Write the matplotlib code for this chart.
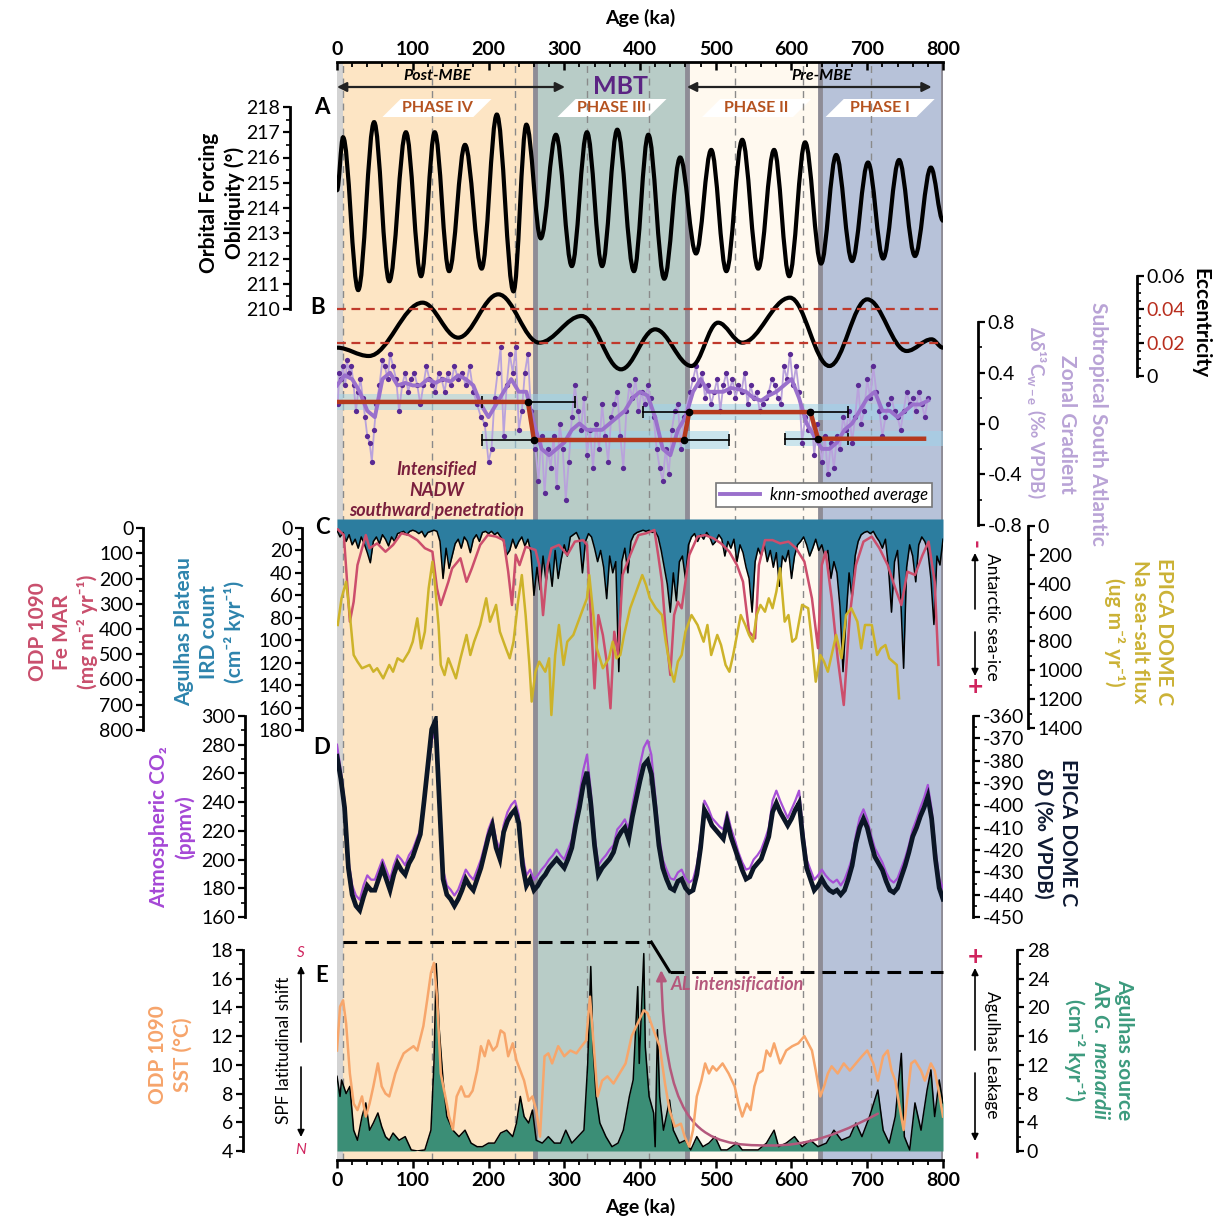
import numpy as np
import matplotlib.pyplot as plt
from matplotlib.ticker import FixedLocator, MultipleLocator
from matplotlib.patches import Polygon, PathPatch, FancyArrowPatch
from matplotlib.path import Path

plt.rcParams['font.family'] = ['Lato', 'DejaVu Sans']
plt.rcParams['axes.unicode_minus'] = False
plt.rcParams['mathtext.fontset'] = 'custom'
plt.rcParams['mathtext.rm'] = 'Lato:bold'
plt.rcParams['mathtext.it'] = 'Lato:italic:bold'
plt.rcParams['mathtext.bf'] = 'Lato:bold'

# ---------------- data ----------------
# (A) obliquity turning points
obl_age = [0, 8, 28, 49, 69, 91, 111, 129, 148, 169, 191, 211, 233, 250, 269, 289, 310, 330,
           350, 370, 392, 411, 432, 453, 474, 494, 514, 535, 556, 577, 597, 618, 639, 659,
           680, 701, 721, 742, 763, 784, 800]
obl_val = [214.7, 216.8, 210.75, 217.4, 211.1, 217.0, 211.3, 217.0, 211.5, 216.5, 211.6, 217.7,
           210.7, 217.3, 212.8, 216.9, 211.7, 217.0, 211.7, 217.1, 211.5, 216.9, 211.2, 216.0,
           212.2, 216.3, 211.5, 216.7, 211.6, 216.3, 211.3, 216.6, 211.8, 216.1, 211.9, 215.8,
           212.0, 215.9, 212.1, 215.6, 213.5]

# (B) eccentricity turning points
ecc_age = [0, 42, 113, 160, 213, 267, 323, 375, 420, 468, 503, 535, 598, 650, 700, 752, 785, 800]
ecc_val = [0.017, 0.012, 0.044, 0.023, 0.049, 0.020, 0.036, 0.004, 0.028, 0.006, 0.032, 0.020,
           0.047, 0.006, 0.046, 0.015, 0.022, 0.017]

# (B) zonal d13C gradient, raw and knn-smoothed
d13_age = [1, 3, 5, 8, 11, 13, 16, 19, 22, 25, 28, 31, 34, 37, 40, 43, 46, 49, 52, 56, 60, 63, 67,
           70, 74, 78, 82, 86, 90, 94, 98, 102, 106, 110, 114, 118, 122, 126, 130, 134, 138, 142,
           146, 150, 155, 160, 165, 170, 175, 180, 185, 190, 195, 200, 204, 208, 212, 216, 220,
           224, 228, 232, 236, 240, 244, 248, 252, 256,
           262, 266, 270, 274, 278, 282, 286, 290, 294, 298, 302, 306, 310, 314, 318, 322, 326,
           330, 334, 338, 342, 346, 350, 354, 358, 362, 366, 370, 374, 378, 382, 386, 390, 394,
           398, 402, 406, 410, 414, 418, 422, 426, 430, 434, 438, 442, 446, 450, 454, 458,
           466, 470, 474, 478, 482, 486, 490, 494, 498, 502, 506, 510, 514, 518, 522, 526, 530,
           534, 538, 542, 546, 550, 554, 558, 562, 566, 570, 574, 578, 582, 586, 590, 594, 598,
           602, 606, 610, 614, 618, 622, 626, 630, 634,
           640, 644, 648, 652, 656, 660, 664, 668, 672, 676, 680, 684, 688, 692, 696, 700, 704,
           708, 712, 716, 720, 724, 728, 732, 736, 740, 744, 748, 752, 756, 760, 764, 768, 772,
           776, 780]
d13_val = [0.15, 0.40, 0.35, 0.45, 0.30, 0.50, 0.40, 0.45, 0.30, 0.10, 0.25, 0.35, 0.20, 0.05,
           -0.10, -0.15, -0.30, -0.05, 0.15, 0.30, 0.50, 0.45, 0.35, 0.55, 0.45, 0.35, 0.10, 0.30,
           0.40, 0.25, 0.35, 0.40, 0.30, 0.15, 0.30, 0.45, 0.35, 0.30, 0.25, 0.40, 0.35, 0.25,
           0.40, 0.30, 0.45, 0.35, 0.40, 0.30, 0.45, 0.25, 0.15, 0.05, 0.00, -0.30, -0.20, 0.20,
           0.40, 0.60, -0.10, 0.30, 0.55, 0.40, 0.60, -0.05, 0.10, 0.40, 0.55, 0.10,
           -0.20, -0.45, -0.10, -0.55, -0.20, -0.35, -0.10, -0.50, 0.00, -0.20, -0.60, -0.30,
           0.05, 0.30, 0.10, -0.05, 0.20, -0.25, -0.05, -0.35, 0.00, -0.20, 0.15, -0.10, -0.30,
           0.05, 0.15, 0.25, -0.10, -0.35, 0.10, 0.30, 0.20, 0.35, 0.10, 0.25, 0.15, 0.30, 0.20,
           0.05, -0.20, -0.35, -0.45, -0.20, -0.40, -0.05, 0.10, 0.15, -0.20, 0.05,
           0.25, 0.35, 0.45, 0.30, 0.40, 0.20, 0.30, 0.15, 0.25, 0.35, 0.10, 0.30, 0.40, 0.25,
           0.35, 0.20, 0.30, 0.25, 0.40, 0.15, 0.30, 0.20, 0.25, 0.10, 0.15, 0.20, 0.25, 0.35,
           0.30, 0.20, 0.15, 0.45, 0.35, 0.55, 0.30, 0.45, 0.25, -0.15, 0.05, -0.05, 0.10, -0.25,
           0.00,
           -0.30, -0.10, -0.40, -0.15, -0.35, -0.10, -0.20, 0.05, -0.05, 0.10, -0.15, 0.05, 0.30,
           0.00, 0.10, 0.35, 0.20, 0.45, 0.25, 0.10, -0.10, 0.05, 0.15, 0.20, 0.10, 0.05, -0.05,
           0.10, 0.25, 0.15, 0.20, 0.10, 0.25, 0.15, 0.05, 0.20]
knn_age = list(range(0, 790, 10))
knn_val = [0.30, 0.38, 0.35, 0.25, 0.10, 0.05, 0.35, 0.40, 0.30, 0.32, 0.30, 0.30, 0.35, 0.32,
           0.35, 0.33, 0.38, 0.35, 0.30, 0.15, 0.05, 0.15, 0.25, 0.35, 0.25, 0.25, 0.00, -0.20,
           -0.25, -0.20, -0.15, -0.05, 0.00, -0.05, -0.05, -0.05, 0.00, 0.05, 0.10, 0.20, 0.25,
           0.22, 0.05, -0.20, -0.25, -0.05, 0.05, 0.25, 0.35, 0.25, 0.25, 0.25, 0.28, 0.27, 0.25,
           0.20, 0.18, 0.22, 0.25, 0.30, 0.35, 0.20, 0.00, -0.10, -0.20, -0.20, -0.15, -0.05,
           0.00, 0.10, 0.20, 0.25, 0.10, 0.10, 0.05, 0.10, 0.15, 0.15, 0.18]

# (B) mean levels of the gradient per phase, with timing ranges and 1-sigma bands
step_age = [0, 252, 260, 458, 465, 625, 635, 775]
step_val = [0.17, 0.17, -0.13, -0.13, 0.09, 0.09, -0.12, -0.12]
range_from = [191, 191, 404, 591]
range_to = [314, 517, 675, 675]
range_lvl = [0.17, -0.13, 0.09, -0.12]
band_from = [0, 191, 404, 591]
band_to = [314, 517, 760, 800]
band_half = [0.06, 0.07, 0.06, 0.06]

# (C) Agulhas Plateau IRD, 4 ka spacing from 0 to 800 ka
ird_age = list(range(0, 801, 4))
ird_val = [2, 8, 4, 12, 6, 15, 10, 18, 8, 14, 22, 31, 12, 8, 14, 6, 10, 16, 8, 12, 5, 4, 3, 6, 3,
           2, 3, 5, 3, 8, 4, 3, 2, 3, 12, 45, 18, 36, 25, 14, 10, 18, 8, 12, 22, 10, 6, 12, 4, 3,
           5, 3, 6, 4, 8, 12, 24, 20, 10, 18, 12, 8, 16, 10, 22, 60, 35, 55, 25, 48, 30, 52, 20,
           45, 28, 15, 25, 8, 6, 4, 10, 40, 12, 5, 8, 18, 30, 20, 35, 63, 25, 40, 30, 128, 30,
           18, 40, 12, 6, 4, 3, 2, 3, 2, 4, 3, 8, 20, 35, 50, 75, 40, 65, 30, 25, 45, 15, 8, 5,
           12, 6, 10, 4, 8, 15, 12, 6, 10, 25, 12, 18, 10, 30, 15, 22, 35, 45, 75, 30, 18, 25,
           15, 30, 20, 35, 22, 52, 25, 30, 20, 45, 25, 15, 12, 8, 15, 25, 18, 10, 20, 15, 25, 20,
           45, 30, 40, 70, 128, 80, 40, 63, 25, 12, 6, 4, 3, 5, 3, 8, 12, 18, 10, 35, 75, 30, 20,
           60, 125, 35, 15, 25, 48, 15, 8, 12, 20, 45, 86, 25, 33, 10]

# (C) ODP 1090 Fe MAR
fe_age = [1, 9, 17, 22, 27, 38, 43, 53, 64, 74, 85, 95, 106, 116, 126, 132, 137, 147, 152, 163,
          171, 178, 189, 199, 210, 220, 226, 231, 236, 241, 249, 262, 267, 272, 278, 283, 293,
          304, 314, 325, 330, 335, 340, 345, 351, 356, 361, 366, 371, 377, 387, 398, 408, 419,
          424, 429, 434, 440, 445, 450, 455, 460, 465, 476, 486, 497, 507, 518, 528, 536, 544,
          552, 557, 565, 575, 585, 596, 606, 617, 627, 635, 640, 645, 653, 661, 669, 677, 685,
          695, 706, 716, 727, 737, 745, 753, 763, 773, 781, 789, 794]
fe_val = [5, 28, 371, 292, 147, 28, 80, 61, 94, 67, 21, 28, 48, 80, 94, 239, 305, 213, 160, 120,
          213, 160, 67, 28, 34, 48, 173, 305, 107, 147, 74, 87, 147, 345, 147, 80, 67, 107, 54,
          48, 67, 345, 635, 345, 424, 529, 714, 411, 503, 186, 107, 28, 21, 8, 107, 213, 411,
          582, 345, 292, 318, 213, 107, 34, 28, 41, 61, 94, 147, 213, 411, 437, 147, 48, 48,
          61, 54, 80, 133, 279, 476, 147, 94, 279, 516, 701, 345, 147, 54, 34, 80, 147, 239,
          305, 173, 186, 107, 54, 213, 542]

# (C) EPICA Dome C Na sea-salt flux
na_age = [1, 6, 12, 17, 22, 27, 33, 43, 48, 53, 61, 69, 74, 80, 87, 95, 100, 106, 111, 116, 121,
          126, 129, 134, 137, 142, 147, 152, 157, 163, 171, 176, 181, 189, 197, 202, 210, 215,
          223, 228, 233, 239, 244, 249, 254, 257, 262, 267, 275, 280, 283, 288, 293, 299, 304,
          312, 320, 325, 330, 333, 338, 343, 351, 359, 364, 369, 374, 379, 387, 395, 403, 408,
          413, 421, 429, 434, 440, 445, 450, 455, 460, 468, 476, 484, 489, 494, 502, 507, 513,
          518, 523, 528, 533, 539, 544, 549, 554, 559, 565, 570, 575, 580, 585, 591, 596, 601,
          606, 614, 622, 627, 632, 638, 643, 648, 653, 659, 666, 672, 679, 687, 692, 697, 706,
          713, 718, 724, 729, 734, 739, 742]
na_val = [686, 501, 386, 617, 894, 940, 986, 963, 1010, 986, 1056, 963, 1010, 917, 940, 871, 802,
          640, 848, 732, 432, 247, 386, 686, 963, 1033, 917, 986, 1056, 917, 755, 894, 802, 686,
          501, 663, 547, 732, 848, 917, 802, 524, 340, 617, 963, 1217, 1010, 940, 1010, 917,
          1310, 894, 686, 963, 802, 755, 640, 570, 501, 340, 594, 848, 986, 917, 802, 917, 894,
          755, 570, 455, 340, 409, 501, 570, 617, 802, 986, 1079, 940, 894, 732, 617, 686, 802,
          686, 894, 755, 825, 963, 1010, 894, 755, 617, 686, 755, 802, 617, 547, 594, 501, 570,
          455, 293, 663, 617, 802, 778, 547, 570, 802, 1079, 894, 940, 1010, 894, 755, 917, 617,
          570, 663, 848, 686, 686, 894, 848, 825, 917, 940, 963, 1194]

# (D) atmospheric CO2 and EPICA Dome C dD, 5 ka spacing
d_age = list(range(0, 801, 5))
co2_val = [280, 262, 241, 200, 182, 175, 172, 182, 189, 186,
           186, 193, 200, 193, 186, 196, 203, 200, 196, 203,
           207, 214, 221, 241, 262, 283, 290, 241, 193, 182,
           179, 175, 179, 186, 193, 189, 186, 193, 200, 210,
           221, 228, 214, 207, 224, 233, 238, 241, 231, 203,
           189, 193, 186, 189, 193, 196, 200, 203, 207, 203,
           200, 207, 214, 231, 245, 262, 273, 248, 217, 196,
           200, 203, 207, 210, 221, 224, 228, 221, 238, 252,
           266, 278, 283, 273, 245, 217, 200, 193, 187, 186,
           191, 193, 187, 184, 186, 196, 214, 241, 236, 229,
           226, 223, 221, 233, 222, 214, 205, 198, 193, 194,
           200, 203, 207, 214, 222, 241, 248, 241, 235, 229,
           235, 241, 248, 221, 200, 193, 186, 189, 193, 189,
           186, 184, 186, 182, 186, 193, 201, 217, 229, 235,
           228, 217, 208, 203, 198, 191, 186, 184, 187, 194,
           201, 210, 221, 228, 236, 243, 252, 235, 207, 187,
           180]
dd_val = [-378, -388, -401, -428, -440, -445, -447, -441, -436, -438,
          -438, -433, -428, -433, -438, -431, -426, -429, -431, -426,
          -423, -418, -413, -398, -382, -366, -362, -398, -433, -440,
          -442, -445, -442, -438, -433, -436, -438, -433, -428, -421,
          -414, -409, -419, -424, -412, -407, -404, -402, -408, -427,
          -436, -433, -438, -436, -433, -431, -428, -426, -424, -426,
          -428, -424, -419, -409, -401, -391, -385, -399, -418, -431,
          -428, -426, -424, -421, -415, -412, -410, -415, -405, -397,
          -389, -382, -380, -386, -401, -418, -428, -433, -437, -438,
          -434, -433, -437, -439, -438, -431, -419, -402, -405, -409,
          -411, -413, -415, -407, -414, -419, -424, -429, -433, -432,
          -428, -426, -424, -419, -414, -403, -399, -403, -406, -409,
          -406, -402, -399, -415, -428, -433, -438, -436, -433, -436,
          -438, -439, -438, -440, -438, -433, -427, -417, -410, -406,
          -410, -417, -423, -426, -429, -434, -438, -439, -437, -432,
          -427, -421, -414, -410, -405, -401, -396, -406, -424, -437,
          -442]

# (E) ODP 1090 SST
sst_age = [0, 4, 8, 12, 17, 22, 27, 33, 38, 43, 48, 54, 59, 64, 69, 77, 82, 88, 93, 101, 106,
           114, 119, 124, 128, 132, 137, 143, 148, 153, 158, 164, 169, 174, 179, 185, 190, 195,
           200, 206, 211, 216, 221, 226, 232, 237, 242, 247, 253, 258, 263, 268, 274, 279, 284,
           292, 300, 308, 316, 323, 329, 334, 339, 344, 350, 357, 365, 373, 381, 389, 397, 405,
           410, 418, 426, 433, 439, 446, 454, 459, 465, 470, 475, 481, 486, 491, 496, 501, 509,
           517, 525, 530, 535, 541, 546, 551, 556, 562, 567, 572, 577, 585, 593, 601, 609, 617,
           622, 627, 632, 638, 643, 648, 653, 661, 669, 677, 685, 693, 700, 708, 714, 721, 727,
           732, 737, 742, 748, 753, 758, 763, 771, 776, 784, 789, 795, 800]
sst_val = [11.0, 14.05, 14.5, 12.9, 9.4, 7.3, 6.85, 7.8, 6.4, 7.3, 8.5, 10.1, 8.5, 8.0, 7.8, 9.4,
           10.1, 10.8, 11.0, 11.3, 11.0, 12.7, 14.5, 16.4, 17.1, 14.75, 9.4, 7.8, 6.4, 5.5, 7.8,
           8.5, 7.8, 7.8, 8.2, 9.6, 11.3, 10.6, 11.7, 11.0, 11.3, 12.4, 12.2, 10.6, 11.5, 10.3,
           9.6, 8.9, 7.5, 7.8, 6.85, 5.0, 10.6, 10.8, 10.1, 11.3, 10.6, 11.0, 10.8, 11.3, 11.7,
           14.75, 11.3, 7.8, 8.9, 9.2, 8.7, 9.4, 10.1, 12.0, 12.9, 13.8, 13.6, 12.4, 11.3, 8.7,
           6.85, 5.7, 5.9, 5.0, 4.3, 5.46, 7.8, 8.9, 10.1, 9.4, 9.9, 9.6, 10.1, 9.4, 8.5, 7.3,
           6.4, 7.3, 6.85, 8.5, 9.4, 9.6, 11.0, 10.6, 11.5, 10.1, 11.0, 11.3, 11.5, 12.0, 11.5,
           11.0, 9.6, 7.8, 8.5, 9.4, 9.9, 9.4, 10.1, 9.6, 10.1, 10.6, 11.0, 10.1, 8.9, 10.6,
           11.0, 9.6, 8.9, 7.3, 5.46, 7.8, 10.1, 10.3, 9.6, 8.9, 10.1, 9.6, 8.0, 6.4]

# (E) Agulhas-source G. menardii accumulation
men_age = [0, 4, 6, 12, 17, 22, 27, 33, 38, 43, 48, 54, 59, 64, 69, 74, 82, 90, 98, 106, 116,
           124, 128, 131, 135, 140, 145, 153, 161, 169, 177, 185, 192, 200, 208, 216, 224, 232,
           237, 242, 247, 253, 258, 263, 271, 279, 287, 295, 302, 310, 318, 326, 331, 335, 338,
           342, 347, 355, 363, 371, 378, 386, 391, 397, 399, 405, 407, 412, 418, 420, 423, 426,
           431, 439, 444, 452, 460, 467, 475, 483, 491, 499, 507, 515, 528, 535, 546, 556, 567,
           577, 583, 593, 604, 614, 625, 635, 646, 656, 666, 677, 685, 693, 703, 714, 721, 729,
           737, 745, 749, 756, 763, 771, 779, 784, 789, 795, 800]
men_val = [10.4, 7.6, 9.9, 8.0, 9.0, 2.9, 1.5, 4.8, 6.7, 2.9, 3.9, 5.3, 3.4, 2.0, 1.5, 2.5, 1.5,
           2.0, 0.15, 0, 0.15, 2.9, 12.2, 26.1, 16.9, 9.9, 4.8, 2.9, 2.0, 2.9, 1.1, 0.6, 0.6,
           1.1, 1.1, 2.5, 2.9, 2.0, 3.9, 7.6, 4.8, 3.9, 5.7, 1.5, 1.1, 2.0, 1.1, 1.1, 2.9, 1.1,
           2.0, 2.9, 12.2, 25.7, 14.5, 7.6, 3.9, 2.0, 0.6, 1.1, 2.9, 7.6, 9.9, 22.9, 12.2, 27.5,
           14.5, 7.6, 5.3, 0.6, 16.9, 7.6, 2.9, 7.1, 2.9, 1.1, 1.5, 0.15, 2.0, 0.6, 1.1, 2.0,
           0.15, 0.15, 1.1, 0.15, 0.15, 0.15, 1.1, 2.9, 0.6, 1.1, 2.0, 0.6, 1.5, 0.6, 1.1, 2.9,
           1.5, 2.0, 3.9, 2.0, 4.8, 8.5, 2.9, 1.1, 4.8, 13.6, 2.0, 0.15, 6.7, 2.9, 8.5, 11.3,
           4.8, 9.9, 6.7]

# (E) schematic subtropical-front position
spf_age = [8, 415, 439, 800]
spf_lvl = [18.55, 18.55, 16.5, 16.5]

phase_edges = [8, 261, 462, 637, 800]
phase_names = ['PHASE IV', 'PHASE III', 'PHASE II', 'PHASE I']
phase_mid = [132, 363, 554, 717]
marker_ages = [8, 125, 235, 330, 412, 525, 615, 705]

# ---------------- layout helpers ----------------
W, H = 1220, 1219
X0, X1 = 337, 943

fig = plt.figure(figsize=(W / 100, H / 100), dpi=100)


def box(top, bot):
    return [X0 / W, 1 - bot / H, (X1 - X0) / W, (bot - top) / H]


def panel(top, bot, ylim):
    ax = fig.add_axes(box(top, bot))
    ax.set_xlim(0, 800)
    ax.set_ylim(*ylim)
    ax.patch.set_visible(False)
    ax.set_xticks([])
    for s in ax.spines.values():
        s.set_visible(False)
    ax.set_yticks([])
    return ax


def yscale(ax, side, xpx, lo, hi, major, minor):
    sp = ax.spines[side]
    sp.set_visible(True)
    sp.set_linewidth(2)
    sp.set_position(('axes', (xpx - X0) / (X1 - X0)))
    sp.set_bounds(lo, hi)
    if side == 'right':
        ax.yaxis.tick_right()
    else:
        ax.yaxis.tick_left()
    ticks = np.arange(lo, hi + major * 0.5, major)
    ax.yaxis.set_major_locator(FixedLocator(ticks))
    ax.yaxis.set_minor_locator(FixedLocator(np.arange(lo, hi + minor * 0.5, minor)))
    ax.set_yticklabels(['{:g}'.format(round(t, 6) + 0.0) for t in ticks])
    ax.tick_params(axis='y', which='major', length=5, width=1.6, labelsize=14, pad=2)
    ax.tick_params(axis='y', which='minor', length=3, width=1.2)


def smooth_path(ages, vals, k=0.36):
    # cubic segments with flat tangents at each turning point
    verts = [(ages[0], vals[0])]
    codes = [Path.MOVETO]
    for i in range(1, len(ages)):
        d = ages[i] - ages[i - 1]
        verts += [(ages[i - 1] + k * d, vals[i - 1]), (ages[i] - k * d, vals[i]), (ages[i], vals[i])]
        codes += [Path.CURVE4] * 3
    return Path(verts, codes)


# ---------------- background: phases and age axes ----------------
bg = fig.add_axes(box(62, 1160))
bg.set_xlim(0, 800)
bg.set_ylim(1160, 62)
bg.set_yticks([])
bg.axvspan(0, 8, color='#d3d3d3', lw=0)
for a0, a1, c in zip(phase_edges[:-1], phase_edges[1:], ['#fde5c4', '#b8ccc7', '#fff9ef', '#b7c2d9']):
    bg.axvspan(a0, a1, color=c, lw=0)
for a in marker_ages:
    bg.axvline(a, color='#8a8a8a', lw=1, dashes=(5, 4))
for a in phase_edges[1:]:
    bg.axvline(a, color='#8e8c96', lw=3.5)
for s in ['left', 'right', 'top']:
    bg.spines[s].set_visible(False)
bg.spines['bottom'].set_linewidth(2)
bg.xaxis.set_major_locator(MultipleLocator(100))
bg.xaxis.set_minor_locator(MultipleLocator(20))
bg.tick_params(axis='x', which='major', direction='out', length=6, width=1.8, labelsize=14, pad=3)
bg.tick_params(axis='x', which='minor', direction='out', length=3.5, width=1.3)
for t in bg.get_xticklabels():
    t.set_fontweight('bold')
bg.set_xlabel('Age (ka)', fontsize=14, fontweight='bold', labelpad=6)

tw = bg.twiny()
tw.set_xlim(0, 800)
for s in ['left', 'right', 'bottom']:
    tw.spines[s].set_visible(False)
tw.spines['top'].set_linewidth(2)
tw.xaxis.set_major_locator(MultipleLocator(100))
tw.xaxis.set_minor_locator(MultipleLocator(20))
tw.tick_params(axis='x', which='major', direction='in', length=6, width=1.8, labelsize=14, pad=3)
tw.tick_params(axis='x', which='minor', direction='in', length=3.5, width=1.3)
for t in tw.get_xticklabels():
    t.set_fontweight('bold')
tw.set_xlabel('Age (ka)', fontsize=14, fontweight='bold', labelpad=12)

# phase tags and MBE arrows
for name, mid in zip(phase_names, phase_mid):
    bg.add_patch(Polygon([(mid - 72, 117), (mid + 48, 117), (mid + 72, 99), (mid - 48, 99)],
                         closed=True, color='white', lw=0))
    bg.text(mid, 108, name, ha='center', va='center', fontsize=11.5, fontweight='bold', color='#b5521f')
bg.annotate('', xy=(0, 87), xytext=(301, 87),
            arrowprops=dict(arrowstyle='<|-|>', color='#222222', lw=1.6, mutation_scale=14, shrinkA=0, shrinkB=0))
bg.annotate('', xy=(462, 87), xytext=(785, 87),
            arrowprops=dict(arrowstyle='<|-|>', color='#222222', lw=1.6, mutation_scale=14, shrinkA=0, shrinkB=0))
bg.text(132, 76, 'Post-MBE', ha='center', va='center', fontsize=11.5, fontweight='bold', style='italic')
bg.text(640, 76, 'Pre-MBE', ha='center', va='center', fontsize=11.5, fontweight='bold', style='italic')
bg.text(374, 87, 'MBT', ha='center', va='center', fontsize=18, fontweight='bold', color='#5b2483')

# ---------------- A: obliquity ----------------
axA = panel(107, 309, (210, 218))
yscale(axA, 'left', 290, 210, 218, 1, 0.5)
axA.add_patch(PathPatch(smooth_path(obl_age, obl_val), fill=False, lw=3, color='k', capstyle='round'))

# ---------------- B: zonal gradient and eccentricity ----------------
axB = panel(322, 525, (-0.8, 0.8))
yscale(axB, 'right', 978, -0.8, 0.8, 0.4, 0.2)
for a0, a1, lvl, hw in zip(band_from, band_to, range_lvl, band_half):
    axB.fill_between([a0, a1], lvl - hw, lvl + hw, color='#9fd3ea', alpha=0.55, lw=0)
axB.plot(d13_age, d13_val, color='#b9a2dc', lw=1.3)
axB.plot(d13_age, d13_val, 'o', color='#5a2a94', ms=3.8, mec='none')
knn_line, = axB.plot(knn_age, knn_val, color='#9a70cc', lw=2.8)
for a0, a1, lvl in zip(range_from, range_to, range_lvl):
    axB.plot([a0, a1], [lvl, lvl], color='k', lw=1.2)
    axB.plot([a0, a1], [lvl, lvl], '|', color='k', ms=8, mew=1.2)
axB.plot(step_age, step_val, color='#b5391d', lw=3.2, solid_joinstyle='miter')
axB.plot(step_age[1:-1], step_val[1:-1], 'o', color='k', ms=4.5)
leg = axB.legend([knn_line], ['knn-smoothed average'], loc='upper right',
                 bbox_to_anchor=(932 / W, 1 - 483 / H), bbox_transform=fig.transFigure,
                 prop={'size': 12, 'style': 'italic'}, fancybox=False, framealpha=1,
                 edgecolor='#777777', borderpad=0.25, handlelength=2.4, handletextpad=0.6, borderaxespad=0)
leg.get_frame().set_linewidth(1.2)

axEcc = panel(276, 376, (0, 0.06))
yscale(axEcc, 'right', 1137, 0, 0.06, 0.02, 0.005)
for t in axEcc.get_yticklabels()[1:3]:
    t.set_color('#b82e1e')
for lvl in [0.04, 0.02]:
    axEcc.axhline(lvl, color='#c0392b', lw=1.6, dashes=(4, 2.5))
axEcc.add_patch(PathPatch(smooth_path(ecc_age, ecc_val), fill=False, lw=3, color='k', capstyle='round'))

# ---------------- C: IRD, Fe MAR, Na flux ----------------
axIRD = panel(519, 730, (180, -8))
yscale(axIRD, 'left', 302, 0, 180, 20, 10)
axIRD.fill_between(ird_age, -8, ird_val, color='#2c7d9f', lw=0)
axIRD.plot(ird_age, ird_val, color='k', lw=1.1)

axFe = panel(528, 730, (800, 0))
yscale(axFe, 'left', 143, 0, 800, 100, 50)
axFe.plot(fe_age, fe_val, color='#cc4e6c', lw=1.8)

axNa = panel(526, 728, (1400, 0))
yscale(axNa, 'right', 1028, 0, 1400, 200, 100)
axNa.plot(na_age, na_val, color='#cdb32a', lw=1.8)

# ---------------- D: CO2 and dD ----------------
axCO2 = panel(716, 917, (160, 300))
yscale(axCO2, 'left', 245, 160, 300, 20, 10)
axCO2.plot(d_age, co2_val, color='#a64fd6', lw=1.6)

axDD = panel(716, 917, (-450, -360))
yscale(axDD, 'right', 973, -450, -360, 10, 5)
axDD.plot(d_age, dd_val, color='#0b1626', lw=3.4, solid_joinstyle='miter')

# ---------------- E: G. menardii and SST ----------------
axMen = panel(950, 1151, (0, 28))
yscale(axMen, 'right', 1017, 0, 28, 4, 2)
axMen.fill_between(men_age, 0, men_val, color='#3b8e76', lw=0)
axMen.plot(men_age, men_val, color='k', lw=1.1)

axSST = panel(950, 1151, (4, 18))
yscale(axSST, 'left', 243, 4, 18, 2, 1)
axSST.plot(sst_age, sst_val, color='#f7a66b', lw=1.8)
axSST.plot(spf_age[:2], spf_lvl[:2], color='k', lw=2.2, dashes=(4.5, 2.6), clip_on=False)
axSST.plot(spf_age[1:3], spf_lvl[1:3], color='k', lw=2.2, clip_on=False)
axSST.plot(spf_age[2:], spf_lvl[2:], color='k', lw=2.2, dashes=(4.5, 2.6), clip_on=False)
al_path = Path([(714, 6.6), (640, 4.5), (600, 4.3), (555, 4.4), (470, 4.45), (432, 6.5), (428, 16.6)],
               [Path.MOVETO] + [Path.CURVE4] * 6)
axSST.add_patch(FancyArrowPatch(path=al_path, arrowstyle='-|>,head_length=6,head_width=3',
                                color='#b4587c', lw=1.8, transform=axSST.transData))

# ---------------- annotations in figure pixels ----------------
ov = fig.add_axes([0, 0, 1, 1])
ov.set_xlim(0, W)
ov.set_ylim(H, 0)
ov.axis('off')


def label(x, y, s, color='k', rot=90, size=15, **kw):
    ov.text(x, y, s, rotation=rot, ha='center', va='center', fontsize=size, fontweight='bold',
            color=color, linespacing=1.3, **kw)


label(222, 203, 'Orbital Forcing\nObliquity (°)')
label(63, 632, 'ODP 1090\nFe MAR\n(mg m⁻² yr⁻¹)', color='#c94f6d')
label(210, 632, 'Agulhas Plateau\nIRD count\n(cm⁻² kyr⁻¹)', color='#2e84ad')
label(172, 827, 'Atmospheric CO₂\n(ppmv)', color='#a548d6')
label(170, 1055, 'ODP 1090\nSST (°C)', color='#f6a46b')
label(1200, 323, 'Eccentricity', rot=-90)
zcol = '#b9a3d6'
label(1098, 424, 'Subtropical South Atlantic', color=zcol, rot=-90)
label(1067, 424, 'Zonal Gradient', color=zcol, rot=-90)
label(1036, 412, 'Δδ¹³C$_{\\mathrm{w-e}}$ (‰ VPDB)', color=zcol, rot=-90, size=13.5)
label(1139, 632, 'EPICA DOME C\nNa sea-salt flux\n(ug m⁻² yr⁻¹)', color='#cbb236', rot=-90)
label(1056, 833, 'EPICA DOME C\nδD (‰ VPDB)', color='#0f1a33', rot=-90)
label(1099, 1050, 'Agulhas source\nAR $G.\\ menardii$\n(cm⁻² kyr⁻¹)', color='#3d9b7e', rot=-90)

for letter, (lx, ly) in zip('ABCDE', [(322, 108), (318, 308), (322, 527), (322, 748), (322, 975)]):
    ov.text(lx, ly, letter, ha='center', va='center', fontsize=16, fontweight='bold')

ov.text(437, 490, 'Intensified\nNADW\nsouthward penetration', ha='center', va='center', fontsize=13,
        fontweight='bold', style='italic', color='#7a1f3d', linespacing=1.25)
ov.text(737, 984, 'AL intensification', ha='center', va='center', fontsize=13, fontweight='bold',
        style='italic', color='#b4587c')

arrow_kw = dict(arrowstyle='-|>', color='k', lw=1.2, mutation_scale=10, shrinkA=0, shrinkB=0)
sign_col = '#d0245e'
# Antarctic sea-ice
ov.annotate('', xy=(975, 553), xytext=(975, 609), arrowprops=arrow_kw)
ov.annotate('', xy=(975, 676), xytext=(975, 632), arrowprops=arrow_kw)
ov.text(975, 544, '-', rotation=-90, ha='center', va='center', fontsize=17, fontweight='bold', color=sign_col)
ov.text(975, 687, '+', ha='center', va='center', fontsize=19, fontweight='bold', color=sign_col)
ov.text(992, 617, 'Antarctic sea-ice', rotation=-90, ha='center', va='center', fontsize=12.5)
# SPF latitudinal shift
ov.annotate('', xy=(301, 966), xytext=(301, 1042), arrowprops=arrow_kw)
ov.annotate('', xy=(301, 1137), xytext=(301, 1067), arrowprops=arrow_kw)
ov.text(301, 953, 'S', ha='center', va='center', fontsize=11, style='italic', color=sign_col)
ov.text(301, 1150, 'N', ha='center', va='center', fontsize=11, style='italic', color=sign_col)
ov.text(284, 1050, 'SPF latitudinal shift', rotation=90, ha='center', va='center', fontsize=12.5)
# Agulhas leakage
ov.annotate('', xy=(975, 968), xytext=(975, 1050), arrowprops=arrow_kw)
ov.annotate('', xy=(975, 1141), xytext=(975, 1073), arrowprops=arrow_kw)
ov.text(975, 957, '+', ha='center', va='center', fontsize=19, fontweight='bold', color=sign_col)
ov.text(975, 1155, '-', rotation=-90, ha='center', va='center', fontsize=17, fontweight='bold', color=sign_col)
ov.text(992, 1055, 'Agulhas Leakage', rotation=-90, ha='center', va='center', fontsize=12.5)

fig.savefig('out.png', dpi=100)
